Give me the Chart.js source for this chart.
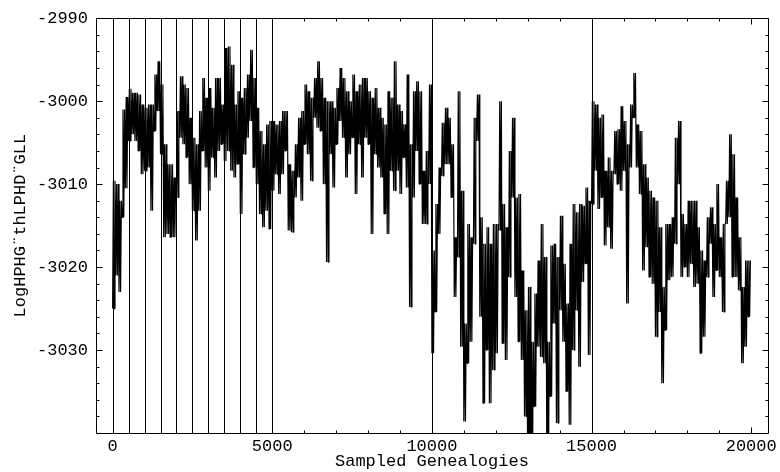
<!DOCTYPE html>
<html>
<head>
<meta charset="utf-8">
<script src="https://cdn.jsdelivr.net/npm/chart.js@4/dist/chart.umd.min.js"></script>
<style>
  html, body { margin: 0; padding: 0; background: #fff; }
  #wrap { width: 780px; height: 472px; }
</style>
</head>
<body>
<div id="wrap"><canvas id="trace"></canvas></div>
<script>
// sampled genealogies, one bin every 100 samples; high / low of the trace in each bin
const BIN = 100;
const traceHigh = [
  -3009.6, -3010.0, -3012.0, -3001.0, -2999.5, -2998.5, -2999.0, -2999.0, -2999.2, -3000.4,
  -3000.8, -3000.4, -3000.4, -2996.8, -2995.2, -2998.0, -3005.2, -3007.6, -3007.6, -3009.2,
  -3001.2, -2997.0, -2998.0, -2998.4, -3002.0, -3004.4, -3005.2, -3001.2, -2997.2, -2999.6,
  -2998.4, -3000.8, -2997.2, -2997.2, -3000.4, -2993.6, -2993.4, -2995.6, -3000.4, -2998.8,
  -2999.6, -2998.4, -2996.8, -2993.8, -2997.2, -3000.8, -3003.6, -3005.2, -3002.8, -3002.4,
  -3002.4, -3002.8, -3002.4, -3001.2, -3001.2, -3007.6, -3008.4, -3005.2, -3002.0, -3001.2,
  -2998.0, -2998.8, -2999.6, -2997.2, -2995.2, -2997.2, -2999.6, -3000.0, -3000.0, -3000.8,
  -2998.4, -2996.0, -2997.2, -2998.8, -3000.0, -2996.8, -2998.8, -2998.0, -2997.2, -2997.2,
  -2998.8, -2999.6, -2998.4, -3000.8, -3002.0, -3002.8, -2998.8, -2999.6, -2995.2, -3000.4,
  -3001.2, -3002.8, -2996.8, -3005.2, -2998.8, -2997.6, -2998.8, -3008.4, -3006.0, -2998.0,
  -3018.0, -3012.4, -3008.0, -3002.6, -3000.8, -3002.0, -3005.2, -3016.4, -2998.8, -3010.8,
  -3026.8, -3014.8, -3016.4, -3002.0, -2999.2, -3014.0, -3017.2, -3015.2, -3017.2, -3014.8,
  -3014.8, -3000.0, -3012.4, -3015.2, -3006.0, -3002.0, -3011.6, -3011.2, -3020.4, -3025.2,
  -3022.4, -3029.0, -3023.2, -3019.2, -3014.8, -3018.8, -3029.0, -3017.4, -3017.2, -3018.8,
  -3013.8, -3019.6, -3024.4, -3017.2, -3012.4, -3013.4, -3012.4, -3012.6, -3010.4, -3012.0,
  -3000.0, -3000.4, -3002.0, -3001.6, -3008.4, -3006.8, -3008.4, -3003.6, -3003.4, -3000.6,
  -3002.4, -3005.2, -3000.4, -2996.6, -3002.8, -3003.6, -3007.6, -3009.2, -3010.8, -3011.6,
  -3012.0, -3015.2, -3022.4, -3014.8, -3014.8, -3014.0, -3004.4, -3002.4, -3013.6, -3014.8,
  -3012.0, -3012.0, -3012.0, -3015.2, -3018.0, -3019.2, -3014.0, -3012.8, -3014.8, -3010.0,
  -3016.4, -3014.8, -3009.6, -3004.0, -3006.4, -3011.6, -3016.4, -3022.4, -3019.2, -3019.2
];
const traceLow = [
  -3025.0, -3021.0, -3023.0, -3014.0, -3010.5, -3004.8, -3004.0, -3004.8, -3006.0, -3008.8,
  -3008.4, -3008.0, -3013.2, -3003.6, -3001.2, -3006.4, -3016.4, -3016.0, -3016.4, -3016.4,
  -3011.6, -3004.4, -3005.2, -3006.8, -3010.0, -3013.2, -3016.8, -3013.2, -3006.0, -3008.0,
  -3010.8, -3006.8, -3009.2, -3006.0, -3005.2, -3007.2, -3006.0, -3008.4, -3009.2, -3007.6,
  -3013.6, -3006.4, -3004.4, -3002.4, -3008.0, -3010.0, -3013.6, -3015.2, -3013.2, -3015.4,
  -3010.8, -3008.8, -3011.2, -3008.8, -3006.0, -3015.6, -3015.8, -3011.6, -3009.2, -3012.0,
  -3005.2, -3006.4, -3009.6, -3002.0, -3003.2, -3003.6, -3010.0, -3019.4, -3006.4, -3010.4,
  -3005.2, -3002.4, -3004.4, -3009.2, -3006.4, -3004.4, -3011.2, -3005.2, -3009.2, -3004.4,
  -3005.2, -3016.0, -3006.4, -3008.0, -3009.2, -3013.6, -3016.0, -3008.4, -3010.8, -3008.4,
  -3011.2, -3006.8, -3010.4, -3024.8, -3011.6, -3006.0, -3010.0, -3014.8, -3014.8, -3010.0,
  -3030.4, -3025.4, -3016.0, -3009.0, -3007.6, -3007.6, -3011.6, -3023.6, -3018.8, -3029.6,
  -3038.6, -3031.6, -3029.0, -3017.2, -3004.8, -3026.0, -3036.4, -3030.0, -3036.4, -3032.4,
  -3030.4, -3015.6, -3029.2, -3031.2, -3021.2, -3011.6, -3023.6, -3029.0, -3031.2, -3038.0,
  -3045.0, -3045.0, -3036.8, -3029.6, -3030.8, -3031.6, -3045.0, -3035.6, -3026.8, -3038.8,
  -3025.2, -3029.0, -3035.0, -3039.0, -3030.0, -3025.2, -3032.0, -3021.8, -3019.6, -3030.6,
  -3012.4, -3008.4, -3013.0, -3011.6, -3017.4, -3015.2, -3017.8, -3008.8, -3010.0, -3010.8,
  -3008.4, -3024.4, -3008.0, -3002.0, -3008.0, -3011.2, -3020.4, -3017.6, -3021.2, -3022.0,
  -3028.4, -3025.4, -3034.0, -3027.6, -3021.6, -3021.2, -3017.2, -3010.0, -3021.2, -3020.0,
  -3021.2, -3019.6, -3022.4, -3022.0, -3030.4, -3028.4, -3021.2, -3017.2, -3023.6, -3020.4,
  -3021.2, -3025.4, -3014.8, -3014.0, -3021.2, -3021.2, -3022.8, -3031.6, -3029.6, -3026.0
];

// full-height marker lines
const markerX = [0, 500, 1000, 1500, 2000, 2500, 3000, 3500, 4000, 4500, 5000, 10000, 15000];

const xLabels = [0, 5000, 10000, 15000, 20000];
const xMinor = [1000, 2000, 3000, 4000, 6000, 7000, 8000, 9000, 11000, 12000, 13000, 14000, 16000, 17000, 18000, 19000];
const yLabels = [-3030, -3020, -3010, -3000, -2990];
const yMinor = [-3038, -3036, -3034, -3032, -3028, -3026, -3024, -3022, -3018, -3016, -3014, -3012,
                -3008, -3006, -3004, -3002, -2998, -2996, -2994, -2992];

const FONT = { family: '"Liberation Mono", "Courier New", monospace', size: 17 };

// zigzag low -> high inside every bin, twice, so the band reads as a dense trace
const points = [];
traceLow.forEach((lo, i) => {
    const x0 = i * BIN;
    points.push({ x: x0, y: lo });
    points.push({ x: x0 + BIN * 0.25, y: traceHigh[i] });
    points.push({ x: x0 + BIN * 0.5, y: lo });
    points.push({ x: x0 + BIN * 0.75, y: traceHigh[i] });
});

const frameTicks = {
    id: 'frameTicks',
    beforeDatasetsDraw(chart) {
        const { ctx, chartArea: a, scales: { x } } = chart;
        ctx.save();
        ctx.strokeStyle = '#000';
        ctx.lineWidth = 1;
        ctx.beginPath();
        markerX.forEach(v => {
            const px = Math.round(x.getPixelForValue(v)) + 0.5;
            ctx.moveTo(px, a.top);
            ctx.lineTo(px, a.bottom);
        });
        ctx.stroke();
        ctx.restore();
    },
    afterDraw(chart) {
        const { ctx, chartArea: a, scales: { x, y } } = chart;
        ctx.save();
        ctx.strokeStyle = '#000';
        ctx.lineWidth = 1;
        ctx.beginPath();
        const l = Math.round(a.left) + 0.5, r = Math.round(a.right) + 0.5;
        const t = Math.round(a.top) + 0.5, b = Math.round(a.bottom) + 0.5;
        ctx.rect(l, t, r - l, b - t);
        const xt = (v, len) => {
            const px = Math.round(x.getPixelForValue(v)) + 0.5;
            ctx.moveTo(px, b); ctx.lineTo(px, b - len);
            ctx.moveTo(px, t); ctx.lineTo(px, t + len);
        };
        const yt = (v, len) => {
            const py = Math.round(y.getPixelForValue(v)) + 0.5;
            ctx.moveTo(l, py); ctx.lineTo(l + len, py);
            ctx.moveTo(r, py); ctx.lineTo(r - len, py);
        };
        xLabels.forEach(v => xt(v, 6));
        xMinor.forEach(v => xt(v, 3));
        yLabels.forEach(v => yt(v, 6));
        yMinor.forEach(v => yt(v, 3));
        ctx.stroke();
        ctx.restore();
    }
};

new Chart(document.getElementById('trace'), {
    type: 'line',
    data: {
        datasets: [{
            data: points,
            borderColor: '#000',
            borderWidth: 1.2,
            borderJoinStyle: 'bevel',
            pointRadius: 0,
            tension: 0,
            fill: false
        }]
    },
    options: {
        responsive: true,
        maintainAspectRatio: false,
        animation: false,
        events: [],
        layout: { padding: { top: 17, right: 11, left: 0, bottom: 0 } },
        plugins: { legend: { display: false }, tooltip: { enabled: false } },
        scales: {
            x: {
                type: 'linear',
                min: -520, max: 20520,
                afterBuildTicks: s => { s.ticks = xLabels.map(v => ({ value: v })); },
                afterFit: s => { s.height = 39; },
                grid: { display: false, drawTicks: false },
                border: { display: false },
                ticks: { color: '#000', font: FONT, padding: 3, maxRotation: 0, autoSkip: false, callback: v => String(v) },
                title: { display: true, text: 'Sampled Genealogies', color: '#000', font: FONT, padding: { top: 0, bottom: 0 } }
            },
            y: {
                min: -3040, max: -2990,
                afterBuildTicks: s => { s.ticks = yLabels.map(v => ({ value: v })); },
                afterFit: s => { s.width = 96; },
                grid: { display: false, drawTicks: false },
                border: { display: false },
                ticks: { color: '#000', font: FONT, padding: 8, autoSkip: false, callback: v => String(v) },
                title: { display: true, text: 'LogHPHG¨thLPHD¨GLL', color: '#000', font: FONT, padding: { top: 10, bottom: 0 } }
            }
        }
    },
    plugins: [frameTicks]
});
</script>
</body>
</html>
